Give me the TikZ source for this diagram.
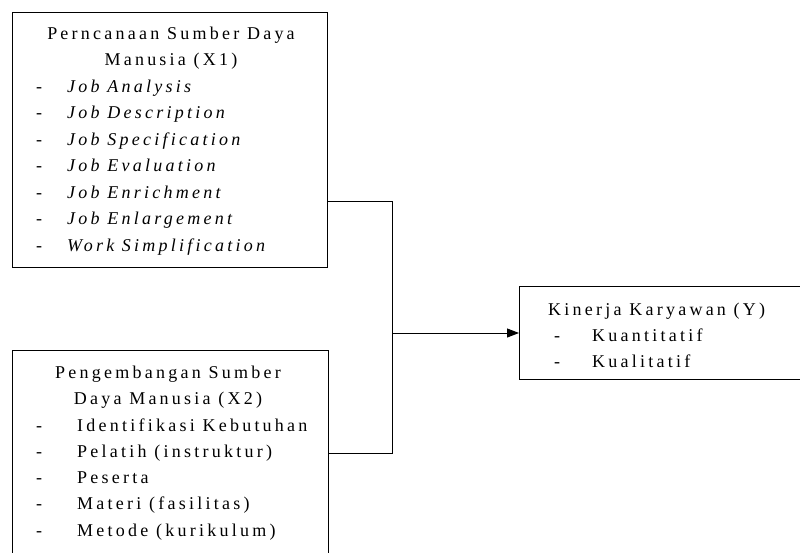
\documentclass[tikz,border=0pt]{standalone}
\usepackage{fontspec}
\setmainfont{Liberation Serif}[LetterSpace=18]
\usepackage{tikz}
\usetikzlibrary{arrows.meta,positioning}
\tikzset{
  box/.style={draw,line width=1pt,rectangle,inner sep=0pt,anchor=north west},
  txt/.style={inner sep=0pt,font=\fontsize{18}{22}\selectfont},
  link/.style={line width=1pt},
  tip/.style={-{Triangle[length=12pt,width=9pt]}}
}
% dash, then the item text
\newcommand{\itm}[2]{\makebox[#1][l]{-}#2}

\begin{document}
\begin{tikzpicture}[x=1pt,y=-1pt]
  \useasboundingbox (0,0) rectangle (800,552);
  \clip (0,0) rectangle (800,552);

  % boxes
  \node[box,minimum width=315pt,minimum height=255pt] (x1) at (12,12) {};
  \node[box,minimum width=316pt,minimum height=215pt] (x2) at (12,350) {};
  \node[box,minimum width=300pt,minimum height=93pt] (y) at (519,286) {};

  % X1
  \node[txt,anchor=base] (x1-t1) at (171,39) {Perncanaan Sumber Daya};
  \node[txt,anchor=base] (x1-t2) at (171,65) {Manusia (X1)};
  \foreach \t [count=\i] in {Job Analysis,Job Description,Job Specification,
      Job Evaluation,Job Enrichment,Job Enlargement,Work Simplification}
    \node[txt,anchor=base west] (x1-\i) at ({36},{92+26.5*(\i-1)})
      {\itm{31pt}{\textit{\t}}};

  % X2
  \node[txt,anchor=base] (x2-t1) at (168,378) {Pengembangan Sumber};
  \node[txt,anchor=base] (x2-t2) at (168,404) {Daya Manusia (X2)};
  \foreach \t [count=\i] in {Identifikasi Kebutuhan,Pelatih (instruktur),Peserta,
      Materi (fasilitas),Metode (kurikulum)}
    \node[txt,anchor=base west] (x2-\i) at ({36},{431+26.3*(\i-1)})
      {\itm{41pt}{\t}};

  % Y
  \node[txt,anchor=base west] (y-t) at (548,315) {Kinerja Karyawan (Y)};
  \node[txt,anchor=base west] (y-1) at (554,341) {\itm{38pt}{Kuantitatif}};
  \node[txt,anchor=base west] (y-2) at (554,367) {\itm{38pt}{Kualitatif}};

  % connectors
  \coordinate (j1) at (392,201);
  \coordinate (j2) at (392,453);
  \draw[link] (x1.east |- j1) -- (j1) -- (j2) -- (x2.east |- j2);
  \draw[link,tip] (j1 |- y.west) -- (y.west);
\end{tikzpicture}
\end{document}
